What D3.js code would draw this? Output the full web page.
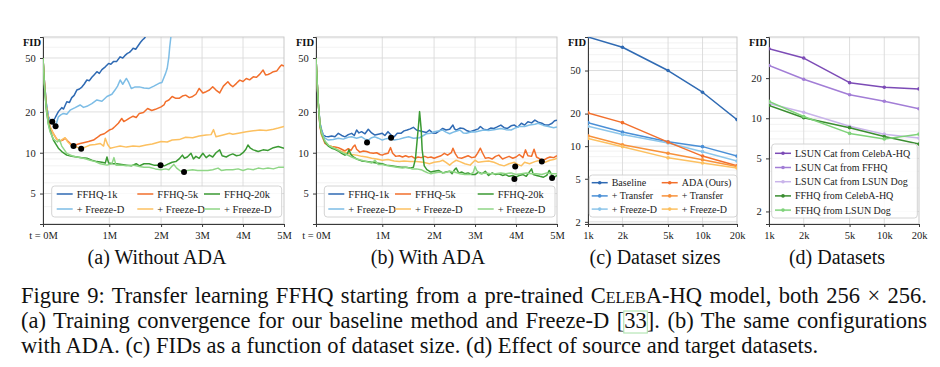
<!DOCTYPE html>
<html>
<head>
<meta charset="utf-8">
<script src="https://cdn.jsdelivr.net/npm/d3@7"></script>
<style>
  body { margin: 0; background: #fff; }
  svg { display: block; }
  text { font-family: "Liberation Serif", "Times New Roman", serif; }
</style>
</head>
<body>
<svg id="fig" width="940" height="367"></svg>
<script>
// ---- data: (a) without ADA, [t in M images, FID] ----
var noAda1k = [[0,50],[0.02,34],[0.05,23],[0.08,18.5],[0.106,17.5],[0.14,16.9],[0.18,18],[0.232,20.1],[0.283,21.5],[0.31,21],
  [0.359,23.8],[0.4,23.5],[0.434,25.5],[0.47,26.5],[0.51,29],[0.55,29.5],[0.586,30.5],[0.62,32],[0.662,34.4],[0.7,34],[0.737,36],
  [0.77,37.5],[0.813,39.6],[0.85,38.5],[0.889,41],[0.94,43],[0.99,45.6],[1.03,45],[1.08,47],[1.14,47],[1.21,51],[1.26,50],[1.3,52],
  [1.35,54],[1.39,55],[1.43,57],[1.46,58.9],[1.51,58],[1.55,61],[1.6,65],[1.64,67.8],[1.68,70],[1.72,74],[1.76,80]];
var noAda1kFD = [[0,50],[0.02,34],[0.05,23],[0.08,18.6],[0.106,17.3],[0.157,16.2],[0.19,15.7],[0.232,18.4],[0.268,19],[0.308,19.5],
  [0.359,19.2],[0.409,20.6],[0.485,21.5],[0.56,22.5],[0.611,21.6],[0.662,22],[0.737,23],[0.813,24.5],[0.889,24],[0.965,26],[1.05,27],
  [1.11,29],[1.16,31],[1.21,34.4],[1.26,32],[1.33,35.3],[1.375,33],[1.425,29.8],[1.49,30.5],[1.58,30.6],[1.67,30],[1.77,29.8],
  [1.86,31],[1.96,32.5],[2.02,33],[2.11,38.5],[2.15,42],[2.19,51],[2.21,60],[2.24,72],[2.26,85]];
var noAda5k = [[0,50],[0.02,34],[0.05,22],[0.08,17.5],[0.106,15.5],[0.157,13.8],[0.207,12.6],[0.258,12.2],[0.298,12.4],[0.333,12.8],
  [0.374,12.2],[0.42,11.6],[0.46,11.2],[0.51,11.5],[0.56,11.7],[0.611,11.85],[0.687,12.1],[0.763,12.4],[0.813,12.9],[0.864,13.5],
  [0.924,13.8],[1.0,14.7],[1.06,15],[1.11,15.6],[1.175,16.5],[1.24,17.9],[1.28,17],[1.33,17.4],[1.39,18],[1.46,18.6],[1.52,18.2],
  [1.58,19.5],[1.66,19.8],[1.74,21.2],[1.82,20.5],[1.89,20.9],[2.0,21.8],[2.07,22.5],[2.11,23.8],[2.19,24.5],[2.27,26],[2.36,25.2],
  [2.44,25.2],[2.52,26.2],[2.6,26.6],[2.69,25.5],[2.77,26],[2.85,27],[2.93,29.8],[3.02,27.6],[3.1,28.2],[3.18,29],[3.26,30.7],
  [3.34,29],[3.43,27.6],[3.52,31],[3.63,33.4],[3.7,31.5],[3.75,30.7],[3.84,32.5],[3.92,34.3],[4.0,33.5],[4.08,35.3],[4.16,34.5],
  [4.25,36.3],[4.33,36],[4.41,38],[4.49,40.7],[4.55,37.5],[4.61,37.8],[4.67,38.5],[4.74,39.6],[4.82,40],[4.9,43.1],[4.94,44.4],[5.0,43.5]];
var noAda5kFD = [[0,50],[0.02,34],[0.05,22],[0.08,17.5],[0.106,15.5],[0.157,13.8],[0.207,12.6],[0.258,12.2],[0.298,12.6],[0.333,12.9],
  [0.374,12.0],[0.42,11.4],[0.46,11.1],[0.51,11.0],[0.576,10.7],[0.636,11.0],[0.712,11.4],[0.788,11.5],[0.864,11.7],[0.914,11.2],
  [0.94,12.8],[0.975,11.5],[1.02,10.8],[1.11,11.0],[1.21,11.2],[1.33,11.0],[1.46,11.2],[1.58,11.1],[1.71,11.4],[1.83,11.6],[2.0,12.1],
  [2.15,12.0],[2.27,12.4],[2.44,12.5],[2.6,13.0],[2.77,12.9],[2.93,13.3],[3.1,13.5],[3.22,13.6],[3.28,14.8],[3.34,13.1],[3.51,13.5],
  [3.67,13.9],[3.75,13.7],[3.92,14.0],[4.08,14.3],[4.25,14.5],[4.41,14.7],[4.57,14.6],[4.74,14.9],[4.86,15.2],[5.0,15.6]];
var noAda20k = [[0,50],[0.02,32],[0.05,21],[0.08,16.5],[0.106,14.7],[0.157,12.4],[0.232,10.8],[0.283,10.2],[0.359,9.6],[0.434,9.4],
  [0.51,9.3],[0.586,9.2],[0.662,9.1],[0.737,8.8],[0.813,8.6],[0.889,8.5],[0.94,8.4],[0.965,9.3],[0.99,8.4],[1.08,8.3],[1.14,8.3],
  [1.24,8.2],[1.33,8.1],[1.425,8.0],[1.52,8.3],[1.58,8.0],[1.67,8.3],[1.77,8.3],[1.86,8.1],[1.99,8.1],[2.08,8.0],[2.19,8.3],[2.27,8.5],
  [2.36,8.6],[2.44,9.0],[2.52,9.6],[2.57,9.1],[2.64,9.3],[2.73,9.9],[2.79,9.0],[2.85,9.4],[2.93,9.1],[3.02,9.9],[3.1,9.2],[3.18,9.6],
  [3.26,9.3],[3.34,10.0],[3.43,10.5],[3.49,9.5],[3.59,9.3],[3.67,9.6],[3.75,9.8],[3.84,9.5],[3.92,9.6],[4.0,10.0],[4.07,10.6],
  [4.12,11.4],[4.18,10.8],[4.25,10.5],[4.37,10.2],[4.49,10.5],[4.61,10.4],[4.74,10.9],[4.86,11.1],[5.0,10.8]];
var noAda20kFD = [[0,50],[0.02,32],[0.05,21],[0.08,16.2],[0.106,14.3],[0.157,12.6],[0.217,12.0],[0.247,12.5],[0.283,11.2],[0.359,9.9],
  [0.434,9.5],[0.51,9.3],[0.611,9.1],[0.712,8.8],[0.788,8.6],[0.864,8.3],[0.965,8.1],[1.05,8.3],[1.09,9.2],[1.13,8.1],[1.24,8.1],
  [1.33,8.0],[1.46,8.1],[1.58,7.9],[1.67,7.8],[1.77,7.8],[1.89,7.6],[2.0,7.5],[2.11,7.6],[2.19,7.5],[2.26,7.9],[2.31,8.2],[2.38,7.7],
  [2.48,7.3],[2.56,7.2],[2.64,7.4],[2.77,7.5],[2.89,7.4],[3.02,7.4],[3.14,7.4],[3.26,7.5],[3.39,7.7],[3.47,7.4],[3.59,7.5],[3.75,7.5],
  [3.88,7.6],[4.0,7.4],[4.12,7.6],[4.25,7.5],[4.37,7.7],[4.49,7.6],[4.61,7.7],[4.74,7.6],[4.86,7.8],[5.0,7.8]];
var bestNoAda = [[0.14,16.9],[0.19,15.7],[0.46,11.2],[0.576,10.7],[1.99,8.1],[2.56,7.2]];

// ---- data: (b) with ADA ----
var ada1k = [[0,50],[0.015,35],[0.035,23],[0.06,16.5],[0.085,14.7],[0.11,13.5],[0.146,13.2],[0.186,13.1],[0.236,13.3],[0.286,13.1],
  [0.337,13.9],[0.387,13.4],[0.437,13.1],[0.487,13.6],[0.538,13.9],[0.578,13.4],[0.613,14.7],[0.648,14.0],[0.688,14.3],[0.739,13.8],
  [0.789,14.9],[0.839,14.0],[0.889,13.5],[0.94,13.7],[1.0,13.9],[1.05,13.4],[1.11,14.3],[1.17,13.5],[1.23,13.1],[1.29,13.9],[1.36,13.9],
  [1.42,14.5],[1.48,14.7],[1.54,15.0],[1.6,15.4],[1.66,14.7],[1.72,14.5],[1.79,14.3],[1.85,14.1],[1.91,14.7],[1.97,14.0],[2.04,13.9],
  [2.13,14.5],[2.21,15.1],[2.29,14.7],[2.38,14.9],[2.46,16.0],[2.5,15.0],[2.54,14.7],[2.63,15.2],[2.71,15.1],[2.79,14.6],[2.88,14.3],
  [3.0,14.7],[3.08,15.0],[3.13,15.6],[3.21,14.9],[3.29,14.7],[3.38,15.2],[3.46,15.1],[3.54,15.5],[3.63,16.0],[3.71,15.3],[3.79,15.1],
  [3.88,15.8],[3.96,16.0],[4.04,15.4],[4.13,16.5],[4.21,16.0],[4.29,16.9],[4.38,16.6],[4.46,17.4],[4.54,16.8],[4.63,16.5],[4.71,16.0],
  [4.79,16.0],[4.88,16.5],[4.94,17.2],[5.0,17.4]];
var ada1kFD = [[0,50],[0.015,35],[0.035,23],[0.06,16.5],[0.085,14.5],[0.12,13.0],[0.16,12.6],[0.186,12.4],[0.26,12.5],[0.337,12.8],
  [0.412,12.6],[0.487,13.0],[0.538,13.1],[0.613,12.8],[0.688,13.1],[0.739,12.6],[0.789,12.4],[0.839,12.9],[0.889,13.1],[0.94,12.8],
  [1.0,12.4],[1.08,12.7],[1.17,12.9],[1.23,12.4],[1.33,12.6],[1.42,12.9],[1.51,13.1],[1.6,12.8],[1.72,12.9],[1.85,13.8],[1.94,13.9],
  [2.0,14.3],[2.13,14.5],[2.21,14.7],[2.29,14.2],[2.38,13.8],[2.5,14.3],[2.63,14.7],[2.71,14.0],[2.79,13.9],[2.92,14.3],[3.0,14.2],
  [3.13,14.5],[3.21,14.7],[3.33,14.6],[3.46,14.8],[3.63,15.1],[3.75,14.8],[3.88,14.7],[4.0,15.3],[4.08,15.6],[4.21,15.6],[4.33,16.0],
  [4.46,16.2],[4.54,16.5],[4.67,15.9],[4.79,15.6],[4.92,15.3],[5.0,15.5]];
var ada5k = [[0,50],[0.015,35],[0.035,23],[0.06,15.5],[0.085,13.5],[0.136,11.7],[0.186,11.3],[0.236,11.1],[0.286,11.0],[0.337,10.9],
  [0.387,10.6],[0.437,10.3],[0.487,10.7],[0.528,10.4],[0.563,11.1],[0.588,11.4],[0.613,10.6],[0.663,10.1],[0.714,10.3],[0.764,10.2],
  [0.814,10.0],[0.864,9.9],[0.915,10.0],[0.965,9.7],[1.0,9.6],[1.05,9.8],[1.11,9.9],[1.16,10.9],[1.2,9.9],[1.26,9.4],[1.33,9.5],
  [1.39,9.3],[1.45,9.5],[1.51,9.3],[1.57,9.4],[1.63,9.1],[1.69,9.3],[1.75,9.2],[1.82,9.4],[1.88,9.2],[1.94,9.3],[2.0,9.1],[2.08,9.3],
  [2.17,9.5],[2.25,9.9],[2.33,9.6],[2.42,10.0],[2.46,10.8],[2.52,9.8],[2.58,9.2],[2.67,9.1],[2.75,9.3],[2.83,9.5],[2.92,9.2],[3.0,9.3],
  [3.06,9.9],[3.13,10.8],[3.18,10.0],[3.25,9.1],[3.33,9.2],[3.42,9.0],[3.5,9.4],[3.58,9.6],[3.67,9.0],[3.75,9.2],[3.83,9.4],[3.92,9.1],
  [4.0,9.3],[4.08,9.7],[4.17,9.2],[4.23,10.5],[4.29,9.5],[4.38,9.4],[4.44,10.6],[4.5,9.3],[4.58,9.0],[4.67,8.8],[4.75,9.1],[4.83,9.3],
  [4.92,9.2],[5.0,9.5]];
var ada5kFD = [[0,50],[0.015,35],[0.035,23],[0.06,16],[0.085,13.5],[0.136,12.0],[0.186,11.3],[0.236,11.1],[0.31,10.6],[0.387,10.2],
  [0.462,10.0],[0.538,9.7],[0.613,9.6],[0.688,9.4],[0.764,9.3],[0.839,9.1],[0.915,9.0],[1.0,8.8],[1.11,8.9],[1.23,8.7],[1.33,8.6],
  [1.42,8.7],[1.54,8.6],[1.66,8.6],[1.79,8.5],[1.91,8.3],[2.0,8.5],[2.13,8.6],[2.21,8.8],[2.29,8.5],[2.38,8.1],[2.46,8.5],[2.54,8.8],
  [2.63,8.6],[2.75,8.3],[2.88,8.1],[3.0,8.8],[3.08,8.5],[3.21,8.6],[3.33,8.7],[3.46,8.5],[3.58,8.2],[3.71,8.0],[3.83,8.3],[3.96,8.5],
  [4.04,8.2],[4.13,8.0],[4.21,8.5],[4.33,8.3],[4.46,8.6],[4.58,8.8],[4.71,8.5],[4.83,8.8],[4.92,8.9],[5.0,9.1]];
var ada20k = [[0,50],[0.015,35],[0.035,23],[0.06,16],[0.085,13.8],[0.136,12.0],[0.186,11.2],[0.236,10.8],[0.286,10.6],[0.337,10.3],
  [0.387,9.9],[0.437,9.6],[0.472,9.8],[0.497,10.5],[0.528,9.7],[0.563,9.3],[0.613,9.0],[0.688,8.7],[0.764,8.6],[0.839,8.5],[0.915,8.4],
  [1.0,8.3],[1.08,8.1],[1.17,8.0],[1.26,7.9],[1.36,7.8],[1.45,7.8],[1.54,7.7],[1.6,7.8],[1.64,9.0],[1.67,12.0],[1.7,16.0],[1.72,20.1],
  [1.75,15.0],[1.77,10.5],[1.81,8.0],[1.86,7.5],[1.94,7.2],[2.0,7.3],[2.11,7.4],[2.21,7.1],[2.29,7.2],[2.38,7.3],[2.44,7.0],[2.5,7.5],
  [2.54,7.7],[2.6,7.1],[2.68,7.2],[2.75,7.0],[2.83,7.1],[2.92,6.9],[3.0,6.9],[3.08,7.2],[3.17,7.0],[3.25,7.3],[3.33,6.8],[3.42,7.1],
  [3.5,6.9],[3.58,7.0],[3.67,6.8],[3.75,6.9],[3.83,6.7],[3.92,6.8],[4.0,6.6],[4.08,6.8],[4.17,6.9],[4.25,6.7],[4.38,7.6],[4.42,6.9],
  [4.5,6.8],[4.58,6.7],[4.67,6.6],[4.75,6.8],[4.81,7.4],[4.88,6.8],[4.94,6.6],[5.0,6.8]];
var ada20kFD = [[0,50],[0.015,35],[0.035,23],[0.06,16],[0.085,14],[0.136,12.2],[0.186,11.4],[0.236,11.0],[0.31,10.6],[0.387,10.1],
  [0.462,9.7],[0.538,9.3],[0.613,9.0],[0.688,8.8],[0.764,8.6],[0.839,8.4],[0.889,8.8],[0.94,8.2],[1.0,8.2],[1.11,8.0],[1.2,7.9],
  [1.29,7.8],[1.39,7.7],[1.48,7.8],[1.57,7.6],[1.66,7.6],[1.75,7.5],[1.81,7.3],[1.88,7.1],[1.94,7.0],[2.0,7.1],[2.13,7.2],[2.25,7.1],
  [2.38,7.3],[2.5,7.2],[2.63,7.0],[2.75,6.9],[2.88,6.9],[2.96,7.2],[3.0,7.9],[3.04,7.4],[3.13,7.0],[3.25,7.1],[3.38,7.0],[3.5,7.0],
  [3.63,7.1],[3.75,7.0],[3.88,7.1],[4.0,6.9],[4.13,7.0],[4.25,7.1],[4.38,7.0],[4.5,7.0],[4.63,6.9],[4.75,7.1],[4.88,7.0],[5.0,7.0]];
var bestAda = [[0.77,11.9],[1.17,12.9],[3.98,7.9],[4.63,8.6],[3.96,6.4],[4.88,6.5]];

var timeTicks = [0, 1, 2, 3, 4, 5];
var timeLabels = ["t = 0M", "1M", "2M", "3M", "4M", "5M"];
var seriesNames = ["FFHQ-1k", "FFHQ-5k", "FFHQ-20k", "+ Freeze-D", "+ Freeze-D", "+ Freeze-D"];

// ---- data: (c) dataset sizes ----
var sizesK = [1, 2, 5, 10, 20];
var sizeLabels = ["1k", "2k", "5k", "10k", "20k"];
var baseline = [102, 82, 50, 31.5, 17.6];
var baseTransfer = [16.5, 13.5, 11.0, 9.9, 8.1];
var baseFreeze = [15.3, 12.8, 10.7, 8.9, 7.3];
var adaOurs = [20.3, 16.5, 10.9, 8.1, 6.6];
var adaTransfer = [12.5, 10.3, 8.6, 7.5, 6.5];
var adaFreeze = [11.8, 9.9, 7.8, 7.0, 6.3];

// ---- data: (d) datasets ----
var catFromCeleba = [33.2, 28.3, 18.5, 17.1, 16.6];
var catFromFfhq = [24.9, 19.6, 15.0, 13.4, 11.8];
var catFromDog = [12.9, 11.1, 8.7, 7.6, 7.1];
var ffhqFromCeleba = [12.5, 10.1, 8.5, 7.3, 6.4];
var ffhqFromDog = [13.4, 10.3, 7.7, 7.0, 7.6];

// colours
var c = {
  blue: "#2f6ab3", lblue: "#7dbde6", mblue: "#4a8fd6",
  orange: "#f26f2c", morange: "#f7913a", yellow: "#fcc060",
  green: "#3b9a33", lgreen: "#8fd686",
  purple: "#7c4bb6", mpurple: "#a27dd6", lpurple: "#c9b4ea",
  dgreen: "#3a8d30", lgreen2: "#7fd27a"
};

var svg = d3.select("#fig");
svg.append("rect").attr("width", 940).attr("height", 367).attr("fill", "#fff");

// panel boxes
var A = { l: 43, r: 284, t: 37, b: 224 };
var B = { l: 316, r: 557, t: 37, b: 224 };
var C = { l: 588, r: 737, t: 37, b: 224 };
var D = { l: 769, r: 919, t: 37, b: 224 };

// the time axis is not linear in the original; tick spacing
var tFrac = [0, 0.275, 0.49, 0.66, 0.83, 1];
function timeScale(P) {
  return d3.scaleLinear().domain(timeTicks).range(tFrac.map(function (f) { return P.l + f * (P.r - P.l); }));
}

var xa = timeScale(A), xb = timeScale(B);
var ya = d3.scaleLog().domain([2.98, 71.4]).range([A.b, A.t]);
var yb = d3.scaleLog().domain([2.98, 71.4]).range([B.b, B.t]);
var xc = d3.scaleLog().domain([1, 20]).range([C.l, C.r]);
var yc = d3.scaleLog().domain([1.91, 102]).range([C.b, C.t]);
var xd = d3.scaleLog().domain([1, 20]).range([D.l, D.r]);
var yd = d3.scaleLog().domain([1.61, 40.7]).range([D.b, D.t]);

function drawFrame(id, P, x, y, xTicks, xLabels, yTicks) {
  var g = svg.append("g");
  var lo = y.domain()[0], hi = y.domain()[1];
  var minor = [];
  for (var e = 0; e < 3; e++) for (var m = 1; m < 10; m++) {
    var v = m * Math.pow(10, e);
    if (v > lo && v < hi && yTicks.indexOf(v) < 0) minor.push(v);
  }
  g.selectAll(null).data(minor).join("line")
    .attr("x1", P.l).attr("x2", P.r).attr("y1", function (d) { return y(d); }).attr("y2", function (d) { return y(d); })
    .attr("stroke", "#efefef").attr("stroke-width", 0.8);
  g.selectAll(null).data(yTicks).join("line")
    .attr("x1", P.l).attr("x2", P.r).attr("y1", function (d) { return y(d); }).attr("y2", function (d) { return y(d); })
    .attr("stroke", "#dadada").attr("stroke-width", 0.9);
  g.selectAll(null).data(xTicks.slice(1, -1)).join("line")
    .attr("x1", function (d) { return x(d); }).attr("x2", function (d) { return x(d); }).attr("y1", P.t).attr("y2", P.b)
    .attr("stroke", "#dadada").attr("stroke-width", 0.9);
  g.append("rect").attr("x", P.l).attr("y", P.t).attr("width", P.r - P.l).attr("height", P.b - P.t)
    .attr("fill", "none").attr("stroke", "#c4c4c4").attr("stroke-width", 0.9);

  var ax = g.append("g").attr("transform", "translate(0," + P.b + ")")
    .call(d3.axisBottom(x).tickValues(xTicks).tickFormat(function (d, i) { return xLabels[i]; }).tickSize(3).tickPadding(4.5));
  var ay = g.append("g").attr("transform", "translate(" + P.l + ",0)")
    .call(d3.axisLeft(y).tickValues(yTicks).tickFormat(d3.format("d")).tickSize(3).tickPadding(4.3));
  [ax, ay].forEach(function (a) {
    a.select(".domain").attr("stroke", "#3a3a3a").attr("stroke-width", 1);
    a.selectAll(".tick line").attr("stroke", "#3a3a3a");
    a.selectAll("text").attr("font-family", "Liberation Serif").attr("font-size", 10.5).attr("fill", "#222");
  });
  g.append("text").attr("x", P.l - 2).attr("y", P.t + 9).attr("text-anchor", "end")
    .attr("font-size", 10.5).attr("font-weight", "bold").attr("fill", "#111").text("FID");

  svg.append("clipPath").attr("id", id).append("rect")
    .attr("x", P.l).attr("y", P.t).attr("width", P.r - P.l).attr("height", P.b - P.t);
  return svg.append("g").attr("clip-path", "url(#" + id + ")");
}

function drawSeries(g, data, x, y, color) {
  var line = d3.line().x(function (d) { return x(d[0]); }).y(function (d) { return y(d[1]); });
  g.append("path").datum(data).attr("d", line).attr("fill", "none")
    .attr("stroke", color).attr("stroke-width", 1.5).attr("stroke-linejoin", "round");
}

function drawDots(g, pts, x, y) {
  g.selectAll(null).data(pts).join("circle")
    .attr("cx", function (d) { return x(d[0]); }).attr("cy", function (d) { return y(d[1]); })
    .attr("r", 3).attr("fill", "#000");
}

function drawSizes(g, vals, x, y, color) {
  var pts = sizesK.map(function (k, i) { return [k, vals[i]]; });
  drawSeries(g, pts, x, y, color);
  g.selectAll(null).data(pts).join("circle")
    .attr("cx", function (d) { return x(d[0]); }).attr("cy", function (d) { return y(d[1]); })
    .attr("r", 1.8).attr("fill", color);
}

function drawLegend(box, items, colX, rowY, fs, marker) {
  var g = svg.append("g");
  g.append("rect").attr("x", box.x).attr("y", box.y).attr("width", box.w).attr("height", box.h)
    .attr("rx", 3).attr("fill", "#fff").attr("fill-opacity", 0.85).attr("stroke", "#cfcfcf").attr("stroke-width", 0.9);
  items.forEach(function (it, i) {
    var hx = box.x + colX[it.col], hy = rowY[it.row];
    g.append("line").attr("x1", hx).attr("x2", hx + 16).attr("y1", hy).attr("y2", hy)
      .attr("stroke", it.color).attr("stroke-width", 1.5);
    if (marker) g.append("circle").attr("cx", hx + 8).attr("cy", hy).attr("r", 1.8).attr("fill", it.color);
    g.append("text").attr("x", hx + 20).attr("y", hy).attr("dy", "0.35em")
      .attr("font-size", fs).attr("fill", "#222").text(it.name);
  });
}

// ---- (a) ----
var ga = drawFrame("clipA", A, xa, ya, timeTicks, timeLabels, [5, 10, 20, 50]);
drawSeries(ga, noAda1k, xa, ya, c.blue);
drawSeries(ga, noAda1kFD, xa, ya, c.lblue);
drawSeries(ga, noAda5k, xa, ya, c.orange);
drawSeries(ga, noAda5kFD, xa, ya, c.yellow);
drawSeries(ga, noAda20k, xa, ya, c.green);
drawSeries(ga, noAda20kFD, xa, ya, c.lgreen);
drawDots(ga, bestNoAda, xa, ya);

// ---- (b) ----
var gb = drawFrame("clipB", B, xb, yb, timeTicks, timeLabels, [5, 10, 20, 50]);
drawSeries(gb, ada1k, xb, yb, c.blue);
drawSeries(gb, ada1kFD, xb, yb, c.lblue);
drawSeries(gb, ada5k, xb, yb, c.orange);
drawSeries(gb, ada5kFD, xb, yb, c.yellow);
drawSeries(gb, ada20k, xb, yb, c.green);
drawSeries(gb, ada20kFD, xb, yb, c.lgreen);
drawDots(gb, bestAda, xb, yb);

var timeColors = [c.blue, c.orange, c.green, c.lblue, c.yellow, c.lgreen];
var timeItems = seriesNames.map(function (n, i) { return { name: n, color: timeColors[i], col: i % 3, row: Math.floor(i / 3) }; });
drawLegend({ x: 51.7, y: 186, w: 230, h: 31 }, timeItems, [5, 85.6, 152.3], [194, 209], 10.5, false);
drawLegend({ x: 324.3, y: 186, w: 230.7, h: 31 }, timeItems, [4, 70.7, 153.4], [194, 209], 10.5, false);

// ---- (c) ----
var gc = drawFrame("clipC", C, xc, yc, sizesK, sizeLabels, [2, 5, 10, 20, 50]);
drawSizes(gc, baseline, xc, yc, c.blue);
drawSizes(gc, baseTransfer, xc, yc, c.mblue);
drawSizes(gc, baseFreeze, xc, yc, "#8cc5ea");
drawSizes(gc, adaOurs, xc, yc, c.orange);
drawSizes(gc, adaTransfer, xc, yc, c.morange);
drawSizes(gc, adaFreeze, xc, yc, c.yellow);
drawLegend({ x: 589.3, y: 175, w: 147.7, h: 42 }, [
  { name: "Baseline", color: c.blue, col: 0, row: 0 },
  { name: "+ Transfer", color: c.mblue, col: 0, row: 1 },
  { name: "+ Freeze-D", color: "#8cc5ea", col: 0, row: 2 },
  { name: "ADA (Ours)", color: c.orange, col: 1, row: 0 },
  { name: "+ Transfer", color: c.morange, col: 1, row: 1 },
  { name: "+ Freeze-D", color: c.yellow, col: 1, row: 2 }
], [2.4, 72.4], [182.7, 195.9, 209.1], 10, true);

// ---- (d) ----
var gd = drawFrame("clipD", D, xd, yd, sizesK, sizeLabels, [2, 5, 10, 20]);
drawSizes(gd, catFromCeleba, xd, yd, c.purple);
drawSizes(gd, catFromFfhq, xd, yd, c.mpurple);
drawSizes(gd, catFromDog, xd, yd, c.lpurple);
drawSizes(gd, ffhqFromCeleba, xd, yd, c.dgreen);
drawSizes(gd, ffhqFromDog, xd, yd, c.lgreen2);
drawLegend({ x: 771.7, y: 144, w: 145.6, h: 74 }, [
  { name: "LSUN Cat from CelebA-HQ", color: c.purple, col: 0, row: 0 },
  { name: "LSUN Cat from FFHQ", color: c.mpurple, col: 0, row: 1 },
  { name: "LSUN Cat from LSUN Dog", color: c.lpurple, col: 0, row: 2 },
  { name: "FFHQ from CelebA-HQ", color: c.dgreen, col: 0, row: 3 },
  { name: "FFHQ from LSUN Dog", color: c.lgreen2, col: 0, row: 4 }
], [3.3], [153.3, 167.5, 181.7, 195.9, 210.1], 10, true);

// ---- sub-captions ----
[["(a) Without ADA", 157], ["(b) With ADA", 428], ["(c) Dataset sizes", 655], ["(d) Datasets", 837]].forEach(function (s) {
  svg.append("text").attr("x", s[1]).attr("y", 264).attr("text-anchor", "middle")
    .attr("font-size", 20).attr("fill", "#111").text(s[0]);
});

// ---- figure caption ----
var capX = 21, capRight = 927;
function capLine(y, parts, justify) {
  var t = svg.append("text").attr("x", capX).attr("y", y).attr("font-size", 22.5).attr("fill", "#111");
  parts.forEach(function (p) {
    var s = t.append("tspan").text(p.s);
    if (p.sc) s.style("font-variant", "small-caps");
  });
  if (justify) {
    var full = parts.map(function (p) { return p.s; }).join("");
    var spaces = full.split(" ").length - 1;
    var extra = (capRight - capX) - t.node().getComputedTextLength();
    t.attr("word-spacing", extra / spaces);
  }
  return t;
}
capLine(303, [{ s: "Figure 9: Transfer learning FFHQ starting from a pre-trained " }, { s: "CelebA", sc: true },
  { s: "-HQ model, both 256 \u00d7 256." }], true);
var l2parts = [{ s: "(a) Training convergence for our baseline method and Freeze-D [33]. (b) The same configurations" }];
var l2 = capLine(328, l2parts, true);
var i33 = l2parts[0].s.indexOf("33");
var p0 = l2.node().getStartPositionOfChar(i33), p1 = l2.node().getEndPositionOfChar(i33 + 1);
svg.append("rect").attr("x", p0.x - 0.5).attr("y", 311).attr("width", p1.x - p0.x + 1).attr("height", 22)
  .attr("fill", "none").attr("stroke", "#a6e0a6").attr("stroke-width", 1);
capLine(353, [{ s: "with ADA. (c) FIDs as a function of dataset size. (d) Effect of source and target datasets." }], false);
</script>
</body>
</html>
